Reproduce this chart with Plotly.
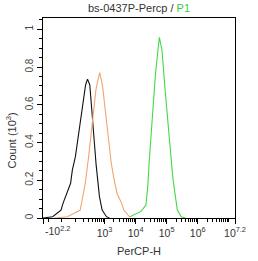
import numpy as np
import plotly.graph_objects as go

# ---- data (fluorescence intensity, count in 10^3) ----
black_x = [-158, -61.5, -5, 8.8, 59, 72.6, 100, 142, 189, 238, 277, 330, 377, 453, 534, 683, 778, 835, 1152, 1428]
black_y = [0, 0.007, 0.042, 0.08, 0.184, 0.254, 0.325, 0.466, 0.608, 0.705, 0.736, 0.705, 0.59, 0.413, 0.28, 0.113, 0.06, 0.042, 0.007, 0]

orange_x = [-50, 36, 154, 233, 302, 377, 453, 523, 605, 698, 866, 963, 1096, 1378, 1647, 1997, 2526, 3609, 4160, 6520]
orange_y = [0, 0.007, 0.042, 0.185, 0.325, 0.466, 0.572, 0.678, 0.73, 0.77, 0.696, 0.625, 0.537, 0.397, 0.29, 0.21, 0.13, 0.075, 0.042, 0.005]

green_x = [6520, 10520, 15030, 21460, 24750, 27150, 36100, 43730, 58170, 70500, 89200, 112900, 150100, 161200, 205300, 220400, 293200, 400000]
green_y = [0.007, 0.025, 0.035, 0.069, 0.17, 0.29, 0.555, 0.767, 0.957, 0.89, 0.678, 0.466, 0.254, 0.201, 0.078, 0.042, 0.007, 0]

x_major_vals = [-10 ** 2.2, 1e3, 1e4, 1e5, 1e6, 10 ** 7.2]
x_major_text = ["", "10<sup>3</sup>", "10<sup>4</sup>", "10<sup>5</sup>", "10<sup>6</sup>", "10<sup>7.2</sup>"]
x_first_label = "-10<sup>2.2</sup>"
y_tick_vals = [0, 0.2, 0.4, 0.6, 0.8, 1.0]
y_tick_text = ["0", "0.2", "0.4", "0.6", "0.8", "1"]

C = 42.0


def tf(v):
    return np.arcsinh(np.asarray(v, dtype=float) / (2 * C)) / np.log(10)


minor_vals = [-100, 0] + [m * 10 ** e for e in range(2, 7) for m in range(1, 10) if not (m == 1 and e >= 3)] + [1e7]

fig = go.Figure()
for xs, ys, col in [(black_x, black_y, "#111111"),
                    (orange_x, orange_y, "#F2A46E"),
                    (green_x, green_y, "#44D944")]:
    fig.add_trace(go.Scatter(x=tf(xs), y=ys, mode="lines",
                             line=dict(color=col, width=1.1), showlegend=False,
                             hoverinfo="skip"))

font_fam = "Liberation Sans, Arial, sans-serif"
fig.update_layout(
    width=258, height=261,
    margin=dict(l=43, r=14, t=18, b=43),
    paper_bgcolor="white", plot_bgcolor="white",
    font=dict(family=font_fam, color="#333333"),
    title=dict(text="bs-0437P-Percp / <span style='color:#3CCB3C'>P1</span>",
               x=0.5, xref="paper", xanchor="center",
               y=1 - 8.5 / 261, yref="container", yanchor="middle",
               font=dict(size=11, color="#333333", family=font_fam)),
    xaxis=dict(range=[float(tf(-10 ** 2.2)), float(tf(10 ** 7.2))],
               tickmode="array", tickvals=list(tf(x_major_vals)), ticktext=x_major_text,
               ticks="outside", ticklen=5, tickcolor="black", tickwidth=1,
               showline=True, linecolor="black", linewidth=1, mirror=True,
               showgrid=False, zeroline=False,
               tickfont=dict(size=10.5, color="#333333"),
               minor=dict(tickmode="array", tickvals=list(tf(minor_vals)),
                          ticks="outside", ticklen=3, tickcolor="black", showgrid=False)),
    yaxis=dict(range=[0, 1.06],
               tickmode="array", tickvals=y_tick_vals, ticktext=y_tick_text,
               tickangle=-90,
               ticks="outside", ticklen=5, tickcolor="black", tickwidth=1,
               showline=True, linecolor="black", linewidth=1, mirror=True,
               showgrid=False, zeroline=False,
               tickfont=dict(size=10, color="#444444"),
               minor=dict(dtick=0.05, ticks="outside", ticklen=3, tickcolor="black", showgrid=False)),
)

fig.add_annotation(text=x_first_label, xref="paper", yref="paper", x=0, y=0,
                   xanchor="left", yanchor="top", yshift=-4, showarrow=False,
                   font=dict(size=10.5, color="#333333"))
fig.add_annotation(text="PerCP-H", xref="paper", yref="paper", x=0.5, y=(218 - 251) / 200,
                   xanchor="center", yanchor="middle", showarrow=False,
                   font=dict(size=11, color="#333333"))
fig.add_annotation(text="Count (10<sup>3</sup>)", xref="paper", yref="paper",
                   x=(10 - 43) / 201, y=(218 - 140) / 200, textangle=-90,
                   xanchor="center", yanchor="middle", showarrow=False,
                   font=dict(size=11, color="#333333"))

fig.write_html("out.html")
